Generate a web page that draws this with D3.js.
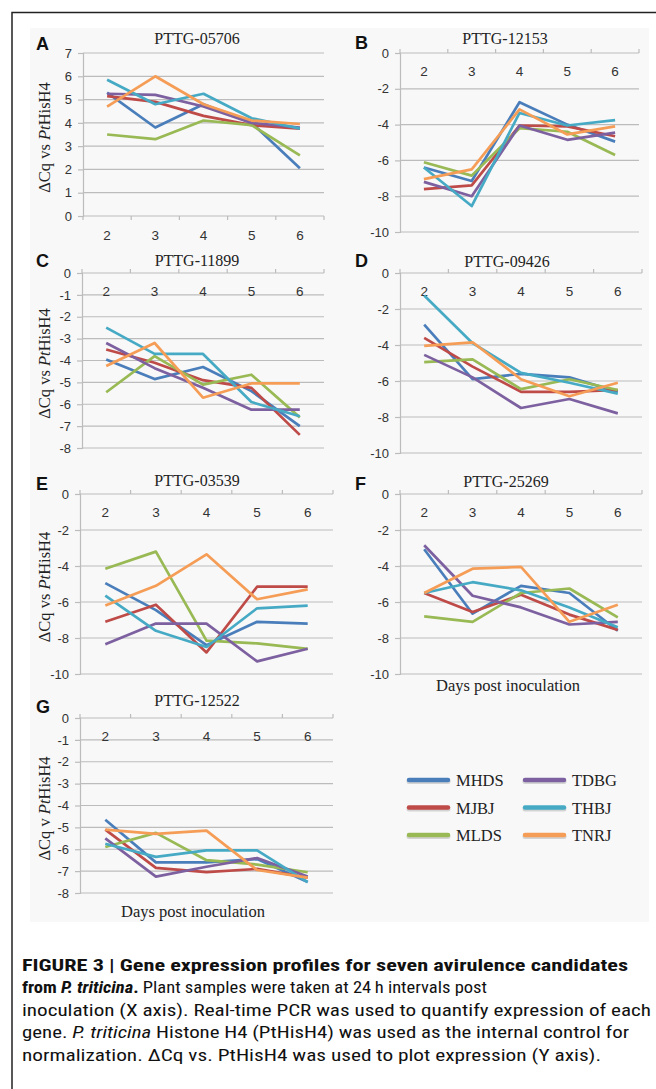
<!DOCTYPE html>
<html>
<head>
<meta charset="utf-8">
<script src="https://cdn.jsdelivr.net/npm/d3@7"></script>
<style>
  body { margin: 0; background: #fff; }
  svg { display: block; }
</style>
</head>
<body>
<div id="app"></div>
<script>
// Days post inoculation (categories)
const days = ["2", "3", "4", "5", "6"];
const seriesNames = ["MHDS", "MJBJ", "MLDS", "TDBG", "THBJ", "TNRJ"];
const seriesColors = ["#4a7ebb", "#be4b48", "#98b954", "#7d60a0", "#46aac5", "#f59d56"];
const genes = ["PTTG-05706", "PTTG-12153", "PTTG-11899", "PTTG-09426", "PTTG-03539", "PTTG-25269", "PTTG-12522"];

// values per gene, one row per series (MHDS, MJBJ, MLDS, TDBG, THBJ, TNRJ)
const pttg05706 = [
  [5.3, 3.8, 4.8, 4.0, 2.05],
  [5.15, 4.9, 4.3, 3.9, 3.75],
  [3.5, 3.3, 4.1, 3.9, 2.6],
  [5.25, 5.2, 4.7, 4.0, 3.8],
  [5.85, 4.8, 5.25, 4.2, 3.75],
  [4.7, 6.0, 4.8, 4.1, 3.95]
];
const pttg12153 = [
  [-6.4, -7.15, -2.75, -4.0, -4.95],
  [-7.6, -7.4, -4.05, -4.1, -4.65],
  [-6.1, -6.85, -4.2, -4.4, -5.7],
  [-7.2, -8.0, -4.05, -4.85, -4.45],
  [-6.4, -8.55, -3.35, -4.05, -3.75],
  [-7.05, -6.5, -3.15, -4.55, -4.1]
];
const pttg11899 = [
  [-3.95, -4.85, -4.3, -5.4, -7.0],
  [-3.5, -4.1, -4.9, -5.25, -7.4],
  [-5.45, -3.8, -5.1, -4.65, -6.6],
  [-3.2, -4.35, -5.25, -6.25, -6.25],
  [-2.5, -3.7, -3.7, -5.9, -6.55],
  [-4.25, -3.2, -5.7, -5.05, -5.05]
];
const pttg09426 = [
  [-2.87, -5.9, -5.6, -5.8, -6.6],
  [-3.6, -5.2, -6.6, -6.6, -6.5],
  [-4.95, -4.8, -6.45, -5.9, -6.5],
  [-4.55, -5.8, -7.5, -7.0, -7.8],
  [-1.25, -3.9, -5.55, -6.1, -6.7],
  [-4.05, -3.85, -5.9, -6.85, -6.1]
];
const pttg03539 = [
  [-4.95, -6.45, -8.4, -7.1, -7.2],
  [-7.1, -6.15, -8.8, -5.15, -5.15],
  [-4.15, -3.2, -8.15, -8.3, -8.6],
  [-8.35, -7.2, -7.2, -9.3, -8.6],
  [-5.65, -7.6, -8.5, -6.35, -6.2],
  [-6.2, -5.1, -3.35, -5.85, -5.3]
];
const pttg25269 = [
  [-3.07, -6.65, -5.1, -5.5, -7.6],
  [-5.5, -6.55, -5.6, -6.7, -7.55],
  [-6.8, -7.1, -5.5, -5.25, -6.85],
  [-2.85, -5.65, -6.3, -7.25, -7.1],
  [-5.5, -4.9, -5.35, -6.3, -7.4],
  [-5.5, -4.15, -4.05, -7.1, -6.15]
];
const pttg12522 = [
  [-4.65, -6.6, -6.6, -6.45, -7.5],
  [-5.1, -6.85, -7.05, -6.9, -7.3],
  [-5.9, -5.25, -6.5, -6.7, -7.05],
  [-5.5, -7.25, -6.8, -6.4, -7.25],
  [-5.75, -6.35, -6.05, -6.05, -7.5],
  [-5.1, -5.3, -5.15, -6.95, -7.3]
];
const panelData = [pttg05706, pttg12153, pttg11899, pttg09426, pttg03539, pttg25269, pttg12522];

// panel geometry
const panels = [
  { letter: "A", left: 83, right: 324, top: 53, bottom: 216, min: 0, max: 7, step: 1, yLabel: "vs", titleX: 197, titleY: 44, letterY: 50 },
  { letter: "B", left: 400, right: 639, top: 53, bottom: 232, min: -10, max: 0, step: 2, yLabel: null, titleX: 505, titleY: 44, letterY: 49 },
  { letter: "C", left: 82, right: 324, top: 273, bottom: 448, min: -8, max: 0, step: 1, yLabel: "vs", titleX: 197, titleY: 266, letterY: 267 },
  { letter: "D", left: 400, right: 642, top: 273, bottom: 453, min: -10, max: 0, step: 2, yLabel: null, titleX: 507, titleY: 267, letterY: 267 },
  { letter: "E", left: 80, right: 333, top: 494, bottom: 674, min: -10, max: 0, step: 2, yLabel: "vs", titleX: 197, titleY: 486, letterY: 490 },
  { letter: "F", left: 400, right: 642, top: 494, bottom: 674, min: -10, max: 0, step: 2, yLabel: null, titleX: 506, titleY: 487, letterY: 490 },
  { letter: "G", left: 80, right: 333, top: 718, bottom: 893, min: -8, max: 0, step: 1, yLabel: "v", titleX: 197, titleY: 706, letterY: 713 }
];

const width = 656, height = 1089;
const svg = d3.select("#app").append("svg")
  .attr("width", width)
  .attr("height", height);

// frame + light panel background
svg.append("rect")
  .attr("x", 30).attr("y", 28)
  .attr("width", 619).attr("height", 894)
  .attr("fill", "#f8f8f8");
svg.append("path")
  .attr("d", "M12,1089V12.5H656")
  .attr("fill", "none")
  .attr("stroke", "#222")
  .attr("stroke-width", 1.5);

const gridColor = "#bcbcbc";
const sans = "'Liberation Sans', Arial, sans-serif";
const serif = "'Liberation Serif', 'Times New Roman', serif";

panels.forEach((p, idx) => {
  const g = svg.append("g");
  const x = d3.scaleBand().domain(days).range([p.left, p.right]);
  const y = d3.scaleLinear().domain([p.min, p.max]).range([p.bottom, p.top]);
  const yTicks = d3.range(p.min, p.max + 0.001, p.step);

  // gridlines
  g.selectAll(".grid")
    .data(yTicks.filter(v => v !== 0))
    .enter()
    .append("line")
      .attr("x1", p.left).attr("x2", p.right)
      .attr("y1", d => y(d)).attr("y2", d => y(d))
      .attr("stroke", gridColor)
      .attr("stroke-width", 1.2);

  // y axis (plain hyphen for negatives, like the original)
  const yAxis = d3.axisLeft(y).tickValues(yTicks).tickSize(5).tickPadding(6).tickFormat(d => String(d));
  const ya = g.append("g")
    .attr("transform", `translate(${p.left},0)`)
    .call(yAxis);
  ya.select(".domain").attr("stroke", gridColor).attr("stroke-width", 1.2);
  ya.selectAll(".tick line").attr("stroke", gridColor).attr("stroke-width", 1.2);
  ya.selectAll("text").attr("font-family", sans).attr("font-size", 13).attr("fill", "#333");

  // x axis sits at zero: bottom for A, top for the others
  const y0 = y(0);
  const up = p.min < 0 ? -1 : 1;
  g.append("line")
    .attr("x1", p.left).attr("x2", p.right)
    .attr("y1", y0).attr("y2", y0)
    .attr("stroke", gridColor).attr("stroke-width", 1.2);
  g.selectAll(".xtick")
    .data(days.concat(["end"]))
    .enter()
    .append("line")
      .attr("x1", d => d === "end" ? p.right : x(d))
      .attr("x2", d => d === "end" ? p.right : x(d))
      .attr("y1", y0).attr("y2", y0 + up * 4)
      .attr("stroke", gridColor).attr("stroke-width", 1.2);
  const xa = g.append("g")
    .attr("transform", `translate(0,${y0})`)
    .call(d3.axisBottom(x).tickSize(0).tickPadding(p.min < 0 ? 13 : 14));
  xa.select(".domain").remove();
  xa.selectAll("text").attr("font-family", sans).attr("font-size", 13.5).attr("fill", "#333");

  // series lines
  const line = d3.line()
    .x((d, i) => x(days[i]) + x.bandwidth() / 2)
    .y(d => y(d));
  g.selectAll(".series")
    .data(panelData[idx])
    .enter()
    .append("path")
      .attr("d", line)
      .attr("fill", "none")
      .attr("stroke", (d, i) => seriesColors[i])
      .attr("stroke-width", 2.7)
      .attr("stroke-linejoin", "round");

  // title and panel letter
  g.append("text")
    .attr("x", p.titleX).attr("y", p.titleY)
    .attr("text-anchor", "middle")
    .attr("font-family", serif).attr("font-size", 16)
    .attr("fill", "#222")
    .text(genes[idx]);
  g.append("text")
    .attr("x", p.left < 200 ? 36 : 355).attr("y", p.letterY)
    .attr("font-family", sans).attr("font-weight", "bold").attr("font-size", 18)
    .attr("fill", "#111")
    .text(p.letter);

  // y axis label
  if (p.yLabel) {
    const lbl = g.append("text")
      .attr("transform", `translate(50,${(p.top + p.bottom) / 2 + 3}) rotate(-90)`)
      .attr("text-anchor", "middle")
      .attr("font-family", serif).attr("font-size", 16.5)
      .attr("fill", "#222");
    lbl.append("tspan").text(`ΔCq ${p.yLabel} `);
    lbl.append("tspan").attr("font-style", "italic").text("Pt");
    lbl.append("tspan").text("HisH4");
  }
});

// x axis titles
[[508, 691], [193, 917]].forEach(([cx, cy]) => {
  svg.append("text")
    .attr("x", cx).attr("y", cy)
    .attr("text-anchor", "middle")
    .attr("font-family", serif).attr("font-size", 16.5)
    .attr("fill", "#222")
    .text("Days post inoculation");
});

// legend
const legend = svg.append("g");
const legendItems = legend.selectAll(".item")
  .data(seriesNames)
  .enter()
  .append("g")
    .attr("transform", (d, i) => `translate(${i < 3 ? 409 : 525},${780 + (i % 3) * 27.5})`);
legendItems.append("line")
  .attr("x1", 0).attr("x2", 39).attr("y1", 1.5).attr("y2", 1.5)
  .attr("stroke", "#000").attr("stroke-opacity", 0.15)
  .attr("stroke-width", 5).attr("stroke-linecap", "round");
legendItems.append("line")
  .attr("x1", 0).attr("x2", 39).attr("y1", 0).attr("y2", 0)
  .attr("stroke", (d, i) => seriesColors[i])
  .attr("stroke-width", 4.5).attr("stroke-linecap", "round");
legendItems.append("text")
  .attr("x", 47).attr("y", 6)
  .attr("font-family", serif).attr("font-size", 16.5)
  .attr("fill", "#222")
  .text(d => d);

// caption
const capFont = "'Liberation Sans Narrow', 'Roboto Condensed', Roboto, sans-serif";
const captionLines = [
  { y: 971, w: 606, parts: [["FIGURE 3 | Gene expression profiles for seven avirulence candidates", "bold", "normal"]] },
  { y: 993, w: 465, parts: [["from ", "bold", "normal"], ["P. triticina", "bold", "italic"], [".", "bold", "normal"], [" Plant samples were taken at 24\u2009h intervals post", "normal", "normal"]] },
  { y: 1016, w: 629, parts: [["inoculation (X axis). Real-time PCR was used to quantify expression of each", "normal", "normal"]] },
  { y: 1038, w: 607, parts: [["gene. ", "normal", "normal"], ["P. triticina", "normal", "italic"], [" Histone H4 (PtHisH4) was used as the internal control for", "normal", "normal"]] },
  { y: 1061, w: 579, parts: [["normalization. \u0394Cq vs. PtHisH4 was used to plot expression (Y axis).", "normal", "normal"]] }
];
captionLines.forEach(l => {
  const t = svg.append("text")
    .attr("x", 22).attr("y", l.y)
    .attr("font-family", capFont).attr("font-size", 16)
    .attr("fill", "#111")
    .attr("textLength", l.w)
    .attr("lengthAdjust", "spacingAndGlyphs")
    .attr("xml:space", "preserve");
  l.parts.forEach(([s, w, st]) => {
    t.append("tspan").attr("font-weight", w).attr("font-style", st).text(s);
  });
});
</script>
</body>
</html>
